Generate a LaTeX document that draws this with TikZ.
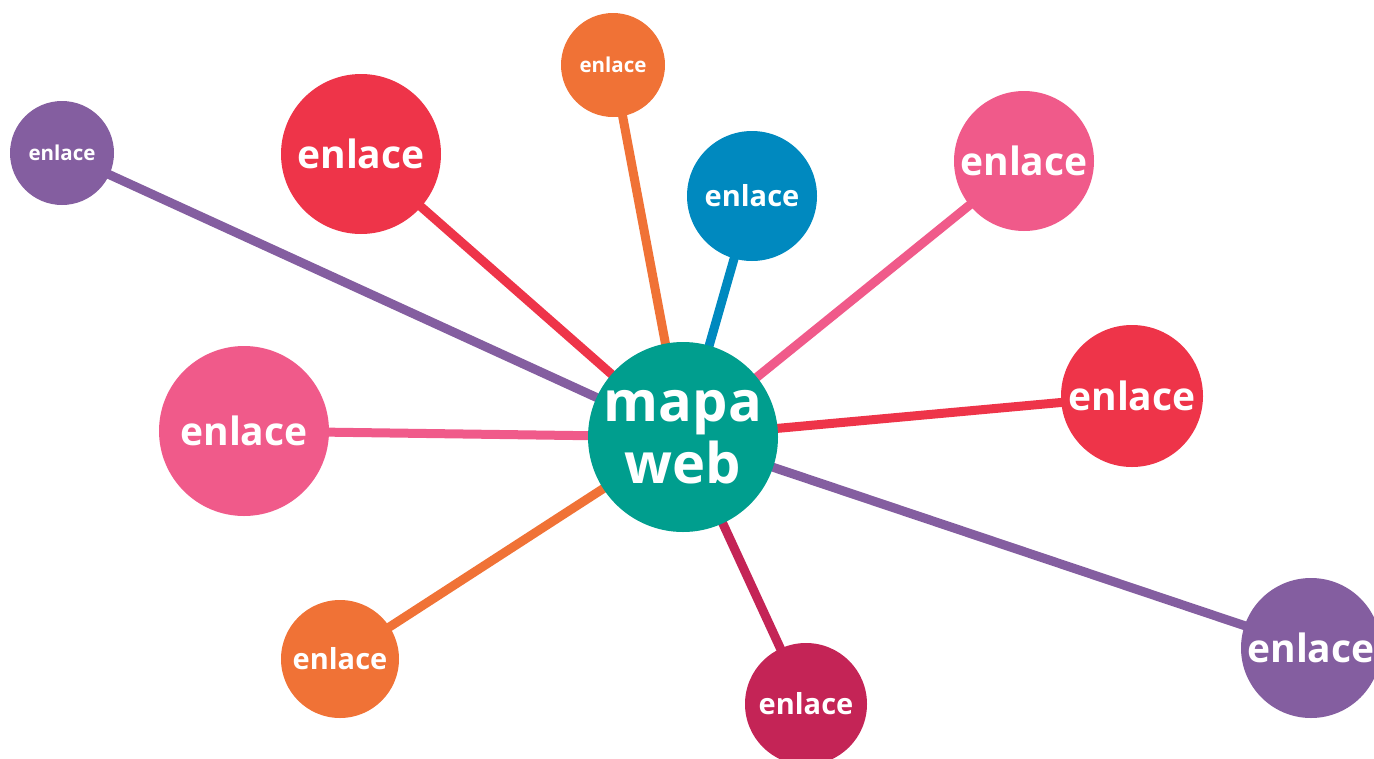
\documentclass[tikz,border=0pt]{standalone}
\usepackage{fontspec}
\setmainfont{Open Sans}
\usetikzlibrary{backgrounds}
\definecolor{cteal}{HTML}{009E8E}
\definecolor{cred}{HTML}{EE3449}
\definecolor{cpurple}{HTML}{845EA0}
\definecolor{corange}{HTML}{F07236}
\definecolor{cpink}{HTML}{F05A8A}
\definecolor{cblue}{HTML}{0089BF}
\definecolor{ccrimson}{HTML}{C42456}
\tikzset{
  bubble/.style={circle, inner sep=0pt, text=white, font=\bfseries},
  link/.style={line width=9pt},
  big/.style={font=\fontsize{39}{39}\selectfont\bfseries},
  mid/.style={font=\fontsize{29}{29}\selectfont\bfseries},
  small/.style={font=\fontsize{20.5}{20.5}\selectfont\bfseries},
}
\begin{document}
\begin{tikzpicture}[x=1pt,y=1pt]
\useasboundingbox (0,0) rectangle (1374,-758);
\node[bubble, fill=cteal, minimum size=190pt, align=center, font=\fontsize{56}{62}\selectfont\bfseries] (c) at (683,-437) {mapa\\web};
\node[bubble, small, fill=cpurple, minimum size=104pt] (n1) at (62,-153) {enlace};
\node[bubble, big, fill=cred, minimum size=160pt] (n2) at (361,-154) {enlace};
\node[bubble, small, fill=corange, minimum size=104pt] (n3) at (613,-65) {enlace};
\node[bubble, mid, fill=cblue, minimum size=130pt] (n4) at (752,-196) {enlace};
\node[bubble, big, fill=cpink, minimum size=140pt] (n5) at (1024,-161) {enlace};
\node[bubble, big, fill=cred, minimum size=142pt] (n6) at (1132,-396) {enlace};
\node[bubble, big, fill=cpurple, minimum size=140pt] (n7) at (1311,-648) {enlace};
\node[bubble, mid, fill=ccrimson, minimum size=122pt] (n8) at (806,-704) {enlace};
\node[bubble, mid, fill=corange, minimum size=118pt] (n9) at (340,-659) {enlace};
\node[bubble, big, fill=cpink, minimum size=170pt] (n10) at (244,-431) {enlace};
\begin{pgfonlayer}{background}
\draw[link, cpurple] (c.center) -- (n1.center);
\draw[link, cred] (c.center) -- (n2.center);
\draw[link, corange] (c.center) -- (n3.center);
\draw[link, cblue] (c.center) -- (n4.center);
\draw[link, cpink] (c.center) -- (n5.center);
\draw[link, cred] (c.center) -- (n6.center);
\draw[link, cpurple] (c.center) -- (n7.center);
\draw[link, ccrimson] (c.center) -- (n8.center);
\draw[link, corange] (c.center) -- (n9.center);
\draw[link, cpink] (c.center) -- (n10.center);
\end{pgfonlayer}
\end{tikzpicture}
\end{document}
